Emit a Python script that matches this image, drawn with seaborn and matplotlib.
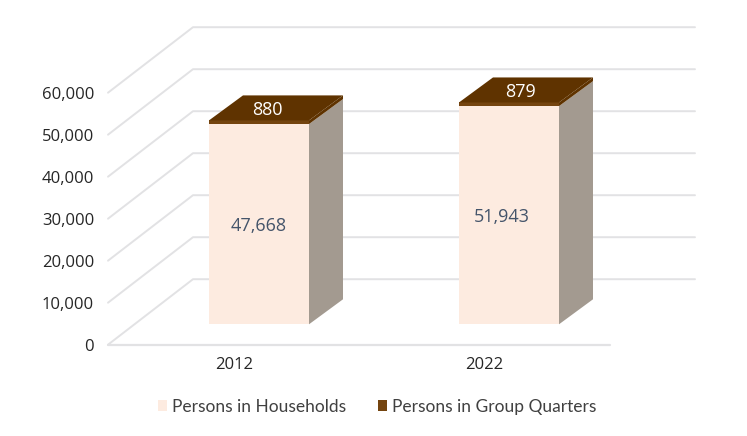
#!/usr/bin/env python3
"""Household and group quarters population, drawn as a faux 3D stacked column chart."""

import matplotlib
matplotlib.use('Agg')
import matplotlib.pyplot as plt
from matplotlib.patches import Polygon
import seaborn as sns

years = ['2012', '2022']
households = [47668, 51943]
group_quarters = [880, 879]
y_ticks = [0, 10000, 20000, 30000, 40000, 50000, 60000]

HOUSEHOLD_COLOR = '#FDEBE0'
QUARTERS_COLOR = '#5F3300'
QUARTERS_FRONT = '#74440F'
SIDE_COLOR = '#A39A90'
GRID_COLOR = '#E2E2E4'
LABEL_FONT = 'Open Sans'
LEGEND_FONT = 'Lato'

# Fake perspective, all in axis units
BAR_WIDTH = 0.4
WALL_DX = 0.34
WALL_DY = 15595
BAR_DX = 0.136
BAR_DY = 5952
LIFT = 4857  # front face of the columns sits this far above the front floor edge
X_LEFT, X_RIGHT = -0.604, 1.744
FLOOR_RIGHT = 1.404

sns.set_style('white')
plt.rcParams['font.family'] = [LABEL_FONT, 'DejaVu Sans']

fig = plt.figure(figsize=(7.47, 4.36), dpi=100)
ax = fig.add_axes([108 / 747, (436 - 344.7) / 436, (695 - 108) / 747, (344.7 - 27) / 436])

# Front faces
sns.barplot(x=years, y=households, bottom=LIFT, width=BAR_WIDTH, color=HOUSEHOLD_COLOR,
            saturation=1, label='Persons in Households', ax=ax, zorder=3, linewidth=0, legend=False)
totals = [LIFT + h for h in households]
sns.barplot(x=years, y=group_quarters, bottom=totals, width=BAR_WIDTH, color=QUARTERS_FRONT,
            saturation=1, label='Persons in Group Quarters', ax=ax, zorder=3, linewidth=0, legend=False)

# Walls and floor
for tick in y_ticks:
    ax.plot([X_LEFT, X_LEFT + WALL_DX, X_RIGHT], [tick, tick + WALL_DY, tick + WALL_DY],
            color=GRID_COLOR, lw=1.4, zorder=1, clip_on=False)
ax.plot([X_LEFT, FLOOR_RIGHT], [0, 0], color=GRID_COLOR, lw=1.6, zorder=1, clip_on=False)

# Side and top of each column
for i, (h, q) in enumerate(zip(households, group_quarters)):
    right = i + BAR_WIDTH / 2
    left = i - BAR_WIDTH / 2
    mid = LIFT + h
    top = mid + q
    ax.add_patch(Polygon([(right, LIFT), (right + BAR_DX, LIFT + BAR_DY),
                          (right + BAR_DX, mid + BAR_DY), (right, mid)],
                         facecolor=SIDE_COLOR, edgecolor='none', zorder=3))
    ax.add_patch(Polygon([(right, mid), (right + BAR_DX, mid + BAR_DY),
                          (right + BAR_DX, top + BAR_DY), (right, top)],
                         facecolor=QUARTERS_COLOR, edgecolor='none', zorder=3))
    ax.add_patch(Polygon([(left, top), (left + BAR_DX, top + BAR_DY),
                          (right + BAR_DX, top + BAR_DY), (right, top)],
                         facecolor=QUARTERS_COLOR, edgecolor='none', zorder=3))

# Value labels
label_shift = [0, -0.03]
for i, (h, q) in enumerate(zip(households, group_quarters)):
    ax.text(i + label_shift[i], LIFT + h / 2 - 500, f'{h:,}', ha='center', va='center',
            fontsize=13, color='#44546A', zorder=4)
    ax.text(i + 0.032 + 0.016 * i, LIFT + h + q / 2 + BAR_DY / 2, f'{q:,}', ha='center', va='center',
            fontsize=13, color='#FFFFFF', zorder=4)

ax.set_xlim(X_LEFT, X_RIGHT)
ax.set_ylim(0, 75643)
ax.set_yticks(y_ticks)
ax.set_yticklabels([f'{t:,}' for t in y_ticks])
ax.set_xticks([-0.101, 0.899])
ax.set_xticklabels(years)
ax.set_xlabel('')
ax.set_ylabel('')
ax.tick_params(axis='y', length=0, pad=10, labelsize=12, labelcolor='#262626')
ax.tick_params(axis='x', length=0, pad=9, labelsize=12, labelcolor='#262626')
sns.despine(ax=ax, left=True, bottom=True)
ax.patch.set_alpha(0)

handles, labels = ax.get_legend_handles_labels()
fig.legend(handles, labels, loc='center', bbox_to_anchor=(377 / 747, 1 - 407 / 436), ncol=2,
           frameon=False, handlelength=0.55, handleheight=0.6, handletextpad=0.25,
           columnspacing=1.85, labelcolor='#404040', prop={'family': LEGEND_FONT, 'size': 12.5})

fig.savefig('out.png', dpi=100)
